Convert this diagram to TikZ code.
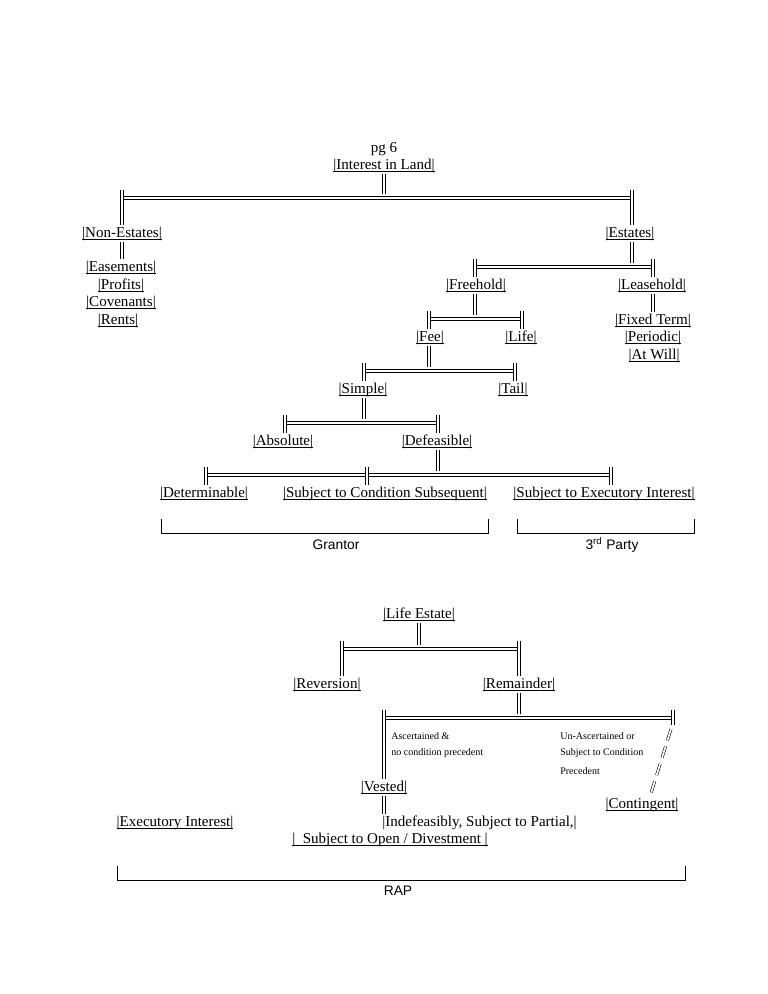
\documentclass[tikz,border=0pt]{standalone}
\usepackage{fontspec}
\usepackage{amsmath}
\setmainfont{Liberation Serif}
\newfontfamily\tagfont{Liberation Sans}
\usetikzlibrary{positioning, calc}

\newcommand{\ulbox}[1]{\underline{\smash[b]{|#1|}}}
% a "||" link, two thin strokes side by side
\newcommand{\vdbl}[3][]{%
  \foreach \o in {-1.25,1.25}
    \draw[thinl,#1] ($(#2)+(\o,0)$) -- ($(#3)+(\o,0)$);}
% a "====" rail
\newcommand{\hdbl}[2]{%
  \foreach \o in {-1.7,1.7}
    \draw[thinl] ($(#1)+(1.25,\o)$) -- ($(#2)+(-1.25,\o)$);}

\begin{document}
\begin{tikzpicture}[x=0.797pt, y=-0.797pt,
  lbl/.style={inner sep=0pt, font=\fontsize{12}{14}\selectfont, text height=8.5pt, text depth=2pt},
  note/.style={inner sep=0pt, anchor=west, font=\fontsize{8}{9}\selectfont},
  tag/.style={inner sep=0pt, font=\tagfont\fontsize{11}{13}\selectfont},
  thinl/.style={line width=0.5pt},
  up/.style={thinl, shorten >=3pt, shorten <=1.5pt},
  down/.style={thinl, shorten <=-6.4pt, shorten >=1pt},
  brk/.style={line width=0.5pt}]
  \useasboundingbox (0,0) rectangle (768,994);

  % interest in land
  \node (pg) [lbl] at (384,148) {pg 6};
  \node (land) [lbl] at (384,165) {\ulbox{Interest in Land}};
  \coordinate (b1l) at (122,198);
  \coordinate (b1r) at (632,198);
  \node (nonest) [lbl] at (122,233) {\ulbox{Non-Estates}};
  \node (estates) [lbl] at (630,233) {\ulbox{Estates}};
  \vdbl[up]{land.south}{land.south |- b1l}
  \hdbl{b1l}{b1r}
  \vdbl[down]{b1l}{b1l |- nonest.north}
  \vdbl[down]{b1r}{b1r |- estates.north}

  % non-estates
  \node (ease) [lbl] at (121,267) {\ulbox{Easements}};
  \node (prof) [lbl] at (121,285) {\ulbox{Profits}};
  \node (cov) [lbl] at (121,302) {\ulbox{Covenants}};
  \node (rent) [lbl] at (118,320) {\ulbox{Rents}};
  \vdbl[thinl, shorten <=1.5pt, shorten >=1pt]{nonest.south}{nonest.south |- ease.north}

  % estates
  \coordinate (b2l) at (475,267);
  \coordinate (b2r) at (653,267);
  \node (free) [lbl] at (476,285) {\ulbox{Freehold}};
  \node (lease) [lbl] at (652,285) {\ulbox{Leasehold}};
  \vdbl[up]{b1r |- estates.south}{b1r |- b2l}
  \hdbl{b2l}{b2r}
  \vdbl[down]{b2l}{b2l |- free.north}
  \vdbl[down]{b2r}{b2r |- lease.north}

  % leasehold
  \node (fixed) [lbl] at (653,320) {\ulbox{Fixed Term}};
  \node (peri) [lbl] at (653,337) {\ulbox{Periodic}};
  \node (will) [lbl] at (654,355) {\ulbox{At Will}};
  \vdbl[thinl, shorten <=1.5pt, shorten >=1pt]{b2r |- lease.south}{b2r |- fixed.north}

  % freehold
  \coordinate (b3l) at (429,319);
  \coordinate (b3r) at (522,319);
  \node (fee) [lbl] at (430,337) {\ulbox{Fee}};
  \node (life) [lbl] at (521,337) {\ulbox{Life}};
  \vdbl[up]{b2l |- free.south}{b2l |- b3l}
  \hdbl{b3l}{b3r}
  \vdbl[down]{b3l}{b3l |- fee.north}
  \vdbl[down]{b3r}{b3r |- life.north}

  % fee
  \coordinate (b4l) at (364,371);
  \coordinate (b4r) at (515,371);
  \node (simple) [lbl] at (363,389) {\ulbox{Simple}};
  \node (tail) [lbl] at (513,389) {\ulbox{Tail}};
  \vdbl[up]{b3l |- fee.south}{b3l |- b4l}
  \hdbl{b4l}{b4r}
  \vdbl[down]{b4l}{b4l |- simple.north}
  \vdbl[down]{b4r}{b4r |- tail.north}

  % simple
  \coordinate (b5l) at (285,423);
  \coordinate (b5r) at (438,423);
  \node (abs) [lbl] at (283,441) {\ulbox{Absolute}};
  \node (defe) [lbl] at (437,441) {\ulbox{Defeasible}};
  \vdbl[up]{b4l |- simple.south}{b4l |- b5l}
  \hdbl{b5l}{b5r}
  \vdbl[down]{b5l}{b5l |- abs.north}
  \vdbl[down]{b5r}{b5r |- defe.north}

  % defeasible
  \coordinate (b6l) at (206,475);
  \coordinate (b6m) at (367,475);
  \coordinate (b6r) at (611,475);
  \node (deter) [lbl] at (204,493) {\ulbox{Determinable}};
  \node (scs) [lbl] at (385,493) {\ulbox{Subject to Condition Subsequent}};
  \node (sei) [lbl] at (604,493) {\ulbox{Subject to Executory Interest}};
  \vdbl[up]{b5r |- defe.south}{b5r |- b6l}
  \hdbl{b6l}{b6m}
  \hdbl{b6m}{b6r}
  \vdbl[down]{b6l}{b6l |- deter.north}
  \vdbl[down]{b6m}{b6m |- scs.north}
  \vdbl[down]{b6r}{b6r |- sei.north}

  % grantor / third party
  \coordinate (g1) at (161,519);
  \coordinate (g2) at (488,519);
  \coordinate (t1) at (517,519);
  \coordinate (t2) at (694,519);
  \draw[brk] (g1) -- ++(0,14) -| (g2);
  \draw[brk] (t1) -- ++(0,14) -| (t2);
  \node (grantor) [tag] at (336,545) {Grantor};
  \node (third) [tag] at (612,545) {3\textsuperscript{rd} Party};

  % life estate
  \node (lifeest) [lbl] at (419,614) {\ulbox{Life Estate}};
  \coordinate (b7l) at (342,649);
  \coordinate (b7r) at (519,649);
  \node (rev) [lbl] at (327,684) {\ulbox{Reversion}};
  \node (rem) [lbl] at (519,684) {\ulbox{Remainder}};
  \vdbl[up]{lifeest.south}{lifeest.south |- b7l}
  \hdbl{b7l}{b7r}
  \vdbl[down]{b7l}{b7l |- rev.north}
  \vdbl[down]{b7r}{b7r |- rem.north}

  % remainder
  \coordinate (b8l) at (384,718);
  \coordinate (b8r) at (673,718);
  \node (vested) [lbl] at (384,787) {\ulbox{Vested}};
  \node (cont) [lbl] at (642,804) {\ulbox{Contingent}};
  \vdbl[up]{rem.south}{rem.south |- b8l}
  \hdbl{b8l}{b8r}
  \vdbl[down]{b8l}{b8l |- vested.north}
  \vdbl[thinl, shorten <=-6.4pt, shorten >=-5.5pt]{b8r}{b8r}
  \coordinate (slash) at (671,729);
  \draw[line width=0.45pt, double, double distance=1.4pt, dash pattern=on 9.5pt off 5pt]
    (slash) -- ($(cont.north)+(9,-4)$);
  \node (asc1) [note] at (391,736) {Ascertained \&};
  \node (asc2) [note] at (391,753) {no condition precedent};
  \node (una1) [note] at (560,736) {Un-Ascertained or};
  \node (una2) [note] at (560,753) {Subject to Condition};
  \node (una3) [note] at (560,771) {Precedent};

  % vested
  \node (indef) [lbl, anchor=west] at (382,822) {|Indefeasibly, Subject to Partial,|};
  \node (open) [lbl] at (390,839) {\ulbox{\ \ Subject to Open / Divestment\ }};
  \node (exec) [lbl] at (175,822) {\ulbox{Executory Interest}};
  \vdbl[thinl, shorten <=1.5pt, shorten >=1pt]{vested.south}{vested.south |- indef.north}

  % rap
  \coordinate (r1) at (117,866);
  \coordinate (r2) at (685,866);
  \draw[brk] (r1) -- ++(0,14) -| (r2);
  \node (rap) [tag] at (398,891) {RAP};
\end{tikzpicture}
\end{document}
